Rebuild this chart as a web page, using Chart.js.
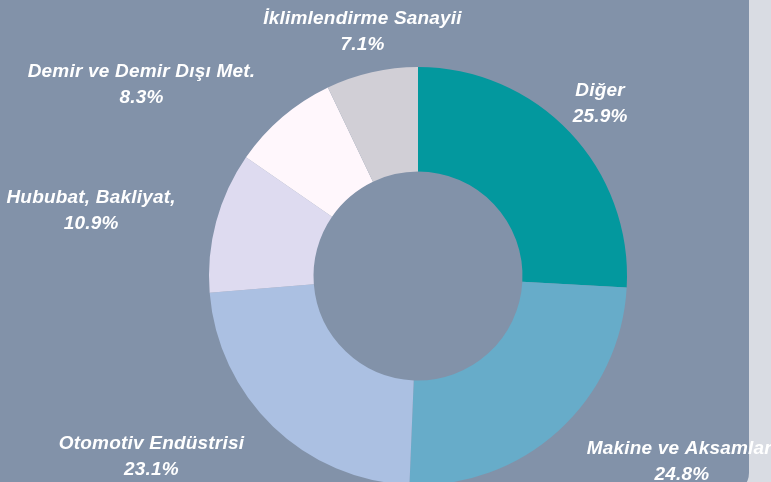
<!DOCTYPE html>
<html>
<head>
<meta charset="utf-8">
<script src="https://cdn.jsdelivr.net/npm/chart.js@4/dist/chart.umd.min.js"></script>
<style>
    html, body { margin: 0; padding: 0; width: 771px; height: 482px; overflow: hidden; background: #d9dce3; }
    #panel { position: absolute; left: 0; top: 0; width: 749px; height: 493px; background: #8292a9; border-bottom-right-radius: 20px; }
    #wrap { position: absolute; left: 0; top: 0; width: 771px; height: 500px; }
</style>
</head>
<body>
<div id="panel"></div>
<div id="wrap"><canvas id="sectorChart"></canvas></div>
<script>
const sectors = ['Diğer', 'Makine ve Aksamları', 'Otomotiv Endüstrisi', 'Hububat, Bakliyat,', 'Demir ve Demir Dışı Met.', 'İklimlendirme Sanayii'];
const shares = [25.9, 24.8, 23.1, 10.9, 8.3, 7.1];
const sliceColors = ['#03989e', '#67acc9', '#abc0e2', '#dedbf0', '#fff7fc', '#d1cfd6'];

const labelFont = 'italic bold 19px "Liberation Sans", Arial, sans-serif';
const lineGap = 26;

// labels outside the ring: centred on the slice direction, pushed sideways if they would hit the ring
const outsideLabels = {
    id: 'outsideLabels',
    afterDatasetsDraw(chart) {
        const ctx = chart.ctx;
        const meta = chart.getDatasetMeta(0);
        ctx.save();
        ctx.font = labelFont;
        ctx.letterSpacing = '0.2px';
        ctx.fillStyle = '#ffffff';
        ctx.textBaseline = 'middle';
        meta.data.forEach(function(arc, i) {
            const p = arc.getProps(['x', 'y', 'startAngle', 'endAngle', 'outerRadius'], true);
            const mid = (p.startAngle + p.endAngle) / 2;
            const ax = p.x + Math.cos(mid) * p.outerRadius * 1.2;
            const ay = p.y + Math.sin(mid) * p.outerRadius * 1.2;
            const lines = [sectors[i], shares[i].toFixed(1) + '%'];
            const w = Math.max.apply(null, lines.map(function(t) { return ctx.measureText(t).width; }));
            const h = lineGap * 2;
            let cx = ax;
            const nx = Math.max(cx - w / 2, Math.min(p.x, cx + w / 2));
            const ny = Math.max(ay - h / 2, Math.min(p.y, ay + h / 2));
            if (Math.hypot(nx - p.x, ny - p.y) < p.outerRadius + 2) {
                cx = Math.cos(mid) > 0 ? ax + w / 2 : ax - w / 2;
            }
            ctx.textAlign = 'center';
            ctx.fillText(lines[0], cx, ay - lineGap / 2);
            ctx.fillText(lines[1], cx, ay + lineGap / 2);
        });
        ctx.restore();
    }
};

new Chart(document.getElementById('sectorChart'), {
    type: 'doughnut',
    data: {
        labels: sectors,
        datasets: [{
            data: shares,
            backgroundColor: sliceColors,
            borderWidth: 0
        }]
    },
    options: {
        responsive: true,
        maintainAspectRatio: false,
        animation: false,
        cutout: '50%',
        layout: { padding: { left: 209, right: 144, top: 67, bottom: 15 } },
        plugins: {
            legend: { display: false },
            tooltip: { enabled: false }
        }
    },
    plugins: [outsideLabels]
});
</script>
</body>
</html>
